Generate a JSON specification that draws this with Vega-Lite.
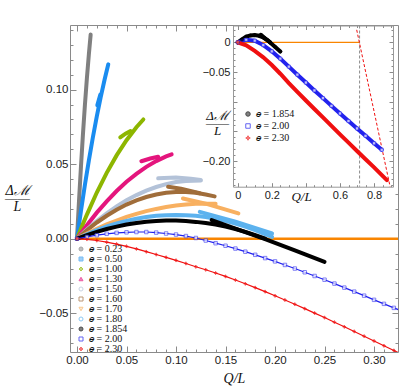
{
  "$schema": "https://vega.github.io/schema/vega-lite/v6.json",
  "width": 328,
  "height": 327,
  "autosize": {"type": "none"},
  "padding": {"left": 70, "top": 25, "right": 9, "bottom": 39},
  "background": "white",
  "config": {
    "view": {"stroke": "#8a8a8a", "strokeWidth": 1},
    "axis": {"labelFont": "Liberation Sans", "labelFontSize": 11.5, "labelColor": "#1a1a1a", "domainColor": "#999999", "tickColor": "#8a8a8a", "grid": false, "titleFont": "Liberation Serif", "titleFontWeight": "normal", "titleColor": "#111111", "labelOverlap": false, "labelFlush": false},
    "legend": {"labelFont": "Liberation Serif", "labelFontSize": 10, "padding": 0, "symbolStrokeWidth": 1, "labelColor": "#111111"}
  },
  "datasets": {
    "ref": [{"x": 0, "y": 0}, {"x": 0.33, "y": 0}],
    "main": [
      {"e":"0.23","s":"0.23a","x":0,"y":0},{"e":"0.23","s":"0.23a","x":0.002,"y":0.0251},{"e":"0.23","s":"0.23a","x":0.004,"y":0.0484},{"e":"0.23","s":"0.23a","x":0.006,"y":0.07},{"e":"0.23","s":"0.23a","x":0.008,"y":0.0898},{"e":"0.23","s":"0.23a","x":0.01,"y":0.1077},{"e":"0.23","s":"0.23a","x":0.012,"y":0.1239},{"e":"0.23","s":"0.23a","x":0.0138,"y":0.137},
      {"e":"0.50","s":"0.50a","x":0,"y":0},{"e":"0.50","s":"0.50a","x":0.004,"y":0.0186},{"e":"0.50","s":"0.50a","x":0.008,"y":0.0362},{"e":"0.50","s":"0.50a","x":0.012,"y":0.0526},{"e":"0.50","s":"0.50a","x":0.016,"y":0.0679},{"e":"0.50","s":"0.50a","x":0.02,"y":0.0821},{"e":"0.50","s":"0.50a","x":0.024,"y":0.0952},{"e":"0.50","s":"0.50a","x":0.028,"y":0.1072},{"e":"0.50","s":"0.50a","x":0.0316,"y":0.117},
      {"e":"0.50","s":"0.50b","x":0.0205,"y":0.0895},{"e":"0.50","s":"0.50b","x":0.0235,"y":0.0965},
      {"e":"1.00","s":"1.00a","x":0,"y":0},{"e":"1.00","s":"1.00a","x":0.005,"y":0.0083},{"e":"1.00","s":"1.00a","x":0.01,"y":0.0162},{"e":"1.00","s":"1.00a","x":0.02,"y":0.031},{"e":"1.00","s":"1.00a","x":0.03,"y":0.0442},{"e":"1.00","s":"1.00a","x":0.04,"y":0.0559},{"e":"1.00","s":"1.00a","x":0.05,"y":0.0661},{"e":"1.00","s":"1.00a","x":0.06,"y":0.0748},{"e":"1.00","s":"1.00a","x":0.067,"y":0.08},
      {"e":"1.00","s":"1.00b","x":0.0437,"y":0.068},{"e":"1.00","s":"1.00b","x":0.049,"y":0.0705},{"e":"1.00","s":"1.00b","x":0.054,"y":0.0722},
      {"e":"1.30","s":"1.30a","x":0,"y":0},{"e":"1.30","s":"1.30a","x":0.01,"y":0.0091},{"e":"1.30","s":"1.30a","x":0.02,"y":0.0175},{"e":"1.30","s":"1.30a","x":0.03,"y":0.0251},{"e":"1.30","s":"1.30a","x":0.04,"y":0.032},{"e":"1.30","s":"1.30a","x":0.05,"y":0.0382},{"e":"1.30","s":"1.30a","x":0.06,"y":0.0435},{"e":"1.30","s":"1.30a","x":0.07,"y":0.0482},{"e":"1.30","s":"1.30a","x":0.08,"y":0.0521},{"e":"1.30","s":"1.30a","x":0.09,"y":0.0552},{"e":"1.30","s":"1.30a","x":0.0956,"y":0.0566},
      {"e":"1.30","s":"1.30b","x":0.065,"y":0.052},{"e":"1.30","s":"1.30b","x":0.074,"y":0.0538},{"e":"1.30","s":"1.30b","x":0.082,"y":0.055},
      {"e":"1.50","s":"1.50a","x":0,"y":0},{"e":"1.50","s":"1.50a","x":0.01,"y":0.0062},{"e":"1.50","s":"1.50a","x":0.02,"y":0.0119},{"e":"1.50","s":"1.50a","x":0.03,"y":0.0171},{"e":"1.50","s":"1.50a","x":0.04,"y":0.0217},{"e":"1.50","s":"1.50a","x":0.05,"y":0.0258},{"e":"1.50","s":"1.50a","x":0.06,"y":0.0293},{"e":"1.50","s":"1.50a","x":0.07,"y":0.0323},{"e":"1.50","s":"1.50a","x":0.08,"y":0.0347},{"e":"1.50","s":"1.50a","x":0.09,"y":0.0366},{"e":"1.50","s":"1.50a","x":0.1,"y":0.038},{"e":"1.50","s":"1.50a","x":0.11,"y":0.0388},{"e":"1.50","s":"1.50a","x":0.125,"y":0.0391},
      {"e":"1.50","s":"1.50b","x":0.082,"y":0.0405},{"e":"1.50","s":"1.50b","x":0.1,"y":0.041},{"e":"1.50","s":"1.50b","x":0.115,"y":0.0402},{"e":"1.50","s":"1.50b","x":0.125,"y":0.0394},
      {"e":"1.60","s":"1.60a","x":0,"y":0},{"e":"1.60","s":"1.60a","x":0.01,"y":0.0057},{"e":"1.60","s":"1.60a","x":0.02,"y":0.0109},{"e":"1.60","s":"1.60a","x":0.03,"y":0.0154},{"e":"1.60","s":"1.60a","x":0.04,"y":0.0194},{"e":"1.60","s":"1.60a","x":0.05,"y":0.0229},{"e":"1.60","s":"1.60a","x":0.06,"y":0.0257},{"e":"1.60","s":"1.60a","x":0.07,"y":0.028},{"e":"1.60","s":"1.60a","x":0.08,"y":0.0297},{"e":"1.60","s":"1.60a","x":0.09,"y":0.0309},{"e":"1.60","s":"1.60a","x":0.1,"y":0.0314},{"e":"1.60","s":"1.60a","x":0.11,"y":0.0314},{"e":"1.60","s":"1.60a","x":0.12,"y":0.0309},{"e":"1.60","s":"1.60a","x":0.13,"y":0.0297},{"e":"1.60","s":"1.60a","x":0.139,"y":0.0284},
      {"e":"1.60","s":"1.60b","x":0.092,"y":0.0349},{"e":"1.60","s":"1.60b","x":0.105,"y":0.0335},{"e":"1.60","s":"1.60b","x":0.124,"y":0.0305},
      {"e":"1.70","s":"1.70a","x":0,"y":0},{"e":"1.70","s":"1.70a","x":0.01,"y":0.0035},{"e":"1.70","s":"1.70a","x":0.02,"y":0.0067},{"e":"1.70","s":"1.70a","x":0.03,"y":0.0096},{"e":"1.70","s":"1.70a","x":0.04,"y":0.0122},{"e":"1.70","s":"1.70a","x":0.05,"y":0.0146},{"e":"1.70","s":"1.70a","x":0.06,"y":0.0167},{"e":"1.70","s":"1.70a","x":0.07,"y":0.0185},{"e":"1.70","s":"1.70a","x":0.08,"y":0.02},{"e":"1.70","s":"1.70a","x":0.09,"y":0.0213},{"e":"1.70","s":"1.70a","x":0.1,"y":0.0223},{"e":"1.70","s":"1.70a","x":0.11,"y":0.0229},{"e":"1.70","s":"1.70a","x":0.12,"y":0.0234},{"e":"1.70","s":"1.70a","x":0.13,"y":0.0235},{"e":"1.70","s":"1.70a","x":0.14,"y":0.0234},
      {"e":"1.70","s":"1.70b","x":0.107,"y":0.027},{"e":"1.70","s":"1.70b","x":0.13,"y":0.0235},{"e":"1.70","s":"1.70b","x":0.163,"y":0.017},
      {"e":"1.80","s":"1.80a","x":0,"y":0},{"e":"1.80","s":"1.80a","x":0.01,"y":0.003},{"e":"1.80","s":"1.80a","x":0.02,"y":0.0058},{"e":"1.80","s":"1.80a","x":0.03,"y":0.0082},{"e":"1.80","s":"1.80a","x":0.04,"y":0.0102},{"e":"1.80","s":"1.80a","x":0.05,"y":0.012},{"e":"1.80","s":"1.80a","x":0.06,"y":0.0134},{"e":"1.80","s":"1.80a","x":0.07,"y":0.0146},{"e":"1.80","s":"1.80a","x":0.08,"y":0.0154},{"e":"1.80","s":"1.80a","x":0.09,"y":0.0158},{"e":"1.80","s":"1.80a","x":0.1,"y":0.016},{"e":"1.80","s":"1.80a","x":0.11,"y":0.0158},{"e":"1.80","s":"1.80a","x":0.12,"y":0.0154},{"e":"1.80","s":"1.80a","x":0.13,"y":0.0146},{"e":"1.80","s":"1.80a","x":0.14,"y":0.0134},{"e":"1.80","s":"1.80a","x":0.15,"y":0.012},{"e":"1.80","s":"1.80a","x":0.16,"y":0.0102},{"e":"1.80","s":"1.80a","x":0.17,"y":0.0082},{"e":"1.80","s":"1.80a","x":0.18,"y":0.0058},{"e":"1.80","s":"1.80a","x":0.19,"y":0.003},{"e":"1.80","s":"1.80a","x":0.197,"y":0.0012},
      {"e":"1.80","s":"1.80b","x":0.124,"y":0.018},{"e":"1.80","s":"1.80b","x":0.16,"y":0.0115},{"e":"1.80","s":"1.80b","x":0.197,"y":0.0035},
      {"e":"1.854","s":"1.854a","x":0,"y":0},{"e":"1.854","s":"1.854a","x":0.01,"y":0.0024},{"e":"1.854","s":"1.854a","x":0.02,"y":0.0046},{"e":"1.854","s":"1.854a","x":0.03,"y":0.0065},{"e":"1.854","s":"1.854a","x":0.04,"y":0.0081},{"e":"1.854","s":"1.854a","x":0.05,"y":0.0095},{"e":"1.854","s":"1.854a","x":0.06,"y":0.0105},{"e":"1.854","s":"1.854a","x":0.07,"y":0.0114},{"e":"1.854","s":"1.854a","x":0.08,"y":0.0119},{"e":"1.854","s":"1.854a","x":0.09,"y":0.0122},{"e":"1.854","s":"1.854a","x":0.1,"y":0.0122},{"e":"1.854","s":"1.854a","x":0.11,"y":0.0119},{"e":"1.854","s":"1.854a","x":0.12,"y":0.0113},{"e":"1.854","s":"1.854a","x":0.13,"y":0.0105},{"e":"1.854","s":"1.854a","x":0.14,"y":0.0095},{"e":"1.854","s":"1.854a","x":0.15,"y":0.0081},{"e":"1.854","s":"1.854a","x":0.16,"y":0.0065},{"e":"1.854","s":"1.854a","x":0.17,"y":0.0046},{"e":"1.854","s":"1.854a","x":0.18,"y":0.0024},{"e":"1.854","s":"1.854a","x":0.19,"y":0.0},
      {"e":"1.854","s":"1.854b","x":0.136,"y":0.0125},{"e":"1.854","s":"1.854b","x":0.16,"y":0.0068},{"e":"1.854","s":"1.854b","x":0.19,"y":-0.0002},{"e":"1.854","s":"1.854b","x":0.22,"y":-0.0078},{"e":"1.854","s":"1.854b","x":0.25,"y":-0.0155},
      {"e":"2.00","s":"2.00a","x":0,"y":0},{"e":"2.00","s":"2.00a","x":0.01,"y":0.0013},{"e":"2.00","s":"2.00a","x":0.02,"y":0.0024},{"e":"2.00","s":"2.00a","x":0.03,"y":0.0033},{"e":"2.00","s":"2.00a","x":0.04,"y":0.0039},{"e":"2.00","s":"2.00a","x":0.05,"y":0.0043},{"e":"2.00","s":"2.00a","x":0.06,"y":0.0045},{"e":"2.00","s":"2.00a","x":0.07,"y":0.0045},{"e":"2.00","s":"2.00a","x":0.08,"y":0.0041},{"e":"2.00","s":"2.00a","x":0.09,"y":0.0035},{"e":"2.00","s":"2.00a","x":0.1,"y":0.0028},{"e":"2.00","s":"2.00a","x":0.11,"y":0.0018},{"e":"2.00","s":"2.00a","x":0.12,"y":0.0005},{"e":"2.00","s":"2.00a","x":0.13,"y":-0.0012},{"e":"2.00","s":"2.00a","x":0.14,"y":-0.003},{"e":"2.00","s":"2.00a","x":0.15,"y":-0.0047},{"e":"2.00","s":"2.00a","x":0.16,"y":-0.0066},{"e":"2.00","s":"2.00a","x":0.17,"y":-0.0087},{"e":"2.00","s":"2.00a","x":0.18,"y":-0.0108},{"e":"2.00","s":"2.00a","x":0.19,"y":-0.013},{"e":"2.00","s":"2.00a","x":0.2,"y":-0.0152},{"e":"2.00","s":"2.00a","x":0.21,"y":-0.0176},{"e":"2.00","s":"2.00a","x":0.22,"y":-0.02},{"e":"2.00","s":"2.00a","x":0.23,"y":-0.0225},{"e":"2.00","s":"2.00a","x":0.24,"y":-0.025},{"e":"2.00","s":"2.00a","x":0.25,"y":-0.0275},{"e":"2.00","s":"2.00a","x":0.26,"y":-0.0301},{"e":"2.00","s":"2.00a","x":0.27,"y":-0.0328},{"e":"2.00","s":"2.00a","x":0.28,"y":-0.0355},{"e":"2.00","s":"2.00a","x":0.29,"y":-0.0382},{"e":"2.00","s":"2.00a","x":0.3,"y":-0.041},{"e":"2.00","s":"2.00a","x":0.31,"y":-0.0437},{"e":"2.00","s":"2.00a","x":0.32,"y":-0.0464},{"e":"2.00","s":"2.00a","x":0.33,"y":-0.049},
      {"e":"2.30","s":"2.30a","x":0,"y":0},{"e":"2.30","s":"2.30a","x":0.01,"y":-0.0004},{"e":"2.30","s":"2.30a","x":0.02,"y":-0.0012},{"e":"2.30","s":"2.30a","x":0.03,"y":-0.0023},{"e":"2.30","s":"2.30a","x":0.04,"y":-0.0036},{"e":"2.30","s":"2.30a","x":0.05,"y":-0.0051},{"e":"2.30","s":"2.30a","x":0.06,"y":-0.0068},{"e":"2.30","s":"2.30a","x":0.07,"y":-0.0087},{"e":"2.30","s":"2.30a","x":0.08,"y":-0.0106},{"e":"2.30","s":"2.30a","x":0.09,"y":-0.0125},{"e":"2.30","s":"2.30a","x":0.1,"y":-0.0145},{"e":"2.30","s":"2.30a","x":0.11,"y":-0.0166},{"e":"2.30","s":"2.30a","x":0.12,"y":-0.0188},{"e":"2.30","s":"2.30a","x":0.13,"y":-0.0208},{"e":"2.30","s":"2.30a","x":0.14,"y":-0.023},{"e":"2.30","s":"2.30a","x":0.15,"y":-0.0253},{"e":"2.30","s":"2.30a","x":0.16,"y":-0.0277},{"e":"2.30","s":"2.30a","x":0.17,"y":-0.0302},{"e":"2.30","s":"2.30a","x":0.18,"y":-0.0328},{"e":"2.30","s":"2.30a","x":0.19,"y":-0.0355},{"e":"2.30","s":"2.30a","x":0.2,"y":-0.0383},{"e":"2.30","s":"2.30a","x":0.21,"y":-0.0411},{"e":"2.30","s":"2.30a","x":0.22,"y":-0.044},{"e":"2.30","s":"2.30a","x":0.23,"y":-0.0469},{"e":"2.30","s":"2.30a","x":0.24,"y":-0.0499},{"e":"2.30","s":"2.30a","x":0.25,"y":-0.0529},{"e":"2.30","s":"2.30a","x":0.26,"y":-0.056},{"e":"2.30","s":"2.30a","x":0.27,"y":-0.0591},{"e":"2.30","s":"2.30a","x":0.28,"y":-0.0622},{"e":"2.30","s":"2.30a","x":0.29,"y":-0.0654},{"e":"2.30","s":"2.30a","x":0.3,"y":-0.0686},{"e":"2.30","s":"2.30a","x":0.31,"y":-0.0718},{"e":"2.30","s":"2.30a","x":0.32,"y":-0.075},{"e":"2.30","s":"2.30a","x":0.33,"y":-0.0782}
    ],
    "inset": [
      {"e":"1.854","s":"1.854a","x":0,"y":0},{"e":"1.854","s":"1.854a","x":0.025,"y":0.0048},{"e":"1.854","s":"1.854a","x":0.05,"y":0.0095},{"e":"1.854","s":"1.854a","x":0.075,"y":0.0116},{"e":"1.854","s":"1.854a","x":0.1,"y":0.0122},{"e":"1.854","s":"1.854a","x":0.125,"y":0.011},{"e":"1.854","s":"1.854a","x":0.15,"y":0.0081},{"e":"1.854","s":"1.854a","x":0.175,"y":0.0035},{"e":"1.854","s":"1.854a","x":0.19,"y":0.0},
      {"e":"1.854","s":"1.854b","x":0.136,"y":0.0125},{"e":"1.854","s":"1.854b","x":0.16,"y":0.0068},{"e":"1.854","s":"1.854b","x":0.19,"y":-0.0002},{"e":"1.854","s":"1.854b","x":0.22,"y":-0.0078},{"e":"1.854","s":"1.854b","x":0.25,"y":-0.0155},
      {"e":"2.00","s":"2.00a","x":0,"y":0},{"e":"2.00","s":"2.00a","x":0.05,"y":0.0043},{"e":"2.00","s":"2.00a","x":0.1,"y":0.0028},{"e":"2.00","s":"2.00a","x":0.15,"y":-0.0047},{"e":"2.00","s":"2.00a","x":0.2,"y":-0.0152},{"e":"2.00","s":"2.00a","x":0.25,"y":-0.0275},{"e":"2.00","s":"2.00a","x":0.3,"y":-0.041},{"e":"2.00","s":"2.00a","x":0.35,"y":-0.0545},{"e":"2.00","s":"2.00a","x":0.4,"y":-0.0678},{"e":"2.00","s":"2.00a","x":0.45,"y":-0.081},{"e":"2.00","s":"2.00a","x":0.5,"y":-0.094},{"e":"2.00","s":"2.00a","x":0.55,"y":-0.107},{"e":"2.00","s":"2.00a","x":0.6,"y":-0.1198},{"e":"2.00","s":"2.00a","x":0.65,"y":-0.1325},{"e":"2.00","s":"2.00a","x":0.7,"y":-0.145},{"e":"2.00","s":"2.00a","x":0.75,"y":-0.1575},{"e":"2.00","s":"2.00a","x":0.8,"y":-0.17},{"e":"2.00","s":"2.00a","x":0.845,"y":-0.181},
      {"e":"2.30","s":"2.30a","x":0,"y":0},{"e":"2.30","s":"2.30a","x":0.05,"y":-0.0051},{"e":"2.30","s":"2.30a","x":0.1,"y":-0.0145},{"e":"2.30","s":"2.30a","x":0.15,"y":-0.0253},{"e":"2.30","s":"2.30a","x":0.2,"y":-0.0383},{"e":"2.30","s":"2.30a","x":0.25,"y":-0.0529},{"e":"2.30","s":"2.30a","x":0.3,"y":-0.0686},{"e":"2.30","s":"2.30a","x":0.35,"y":-0.0835},{"e":"2.30","s":"2.30a","x":0.4,"y":-0.098},{"e":"2.30","s":"2.30a","x":0.45,"y":-0.1123},{"e":"2.30","s":"2.30a","x":0.5,"y":-0.1265},{"e":"2.30","s":"2.30a","x":0.55,"y":-0.1408},{"e":"2.30","s":"2.30a","x":0.6,"y":-0.155},{"e":"2.30","s":"2.30a","x":0.65,"y":-0.169},{"e":"2.30","s":"2.30a","x":0.7,"y":-0.183},{"e":"2.30","s":"2.30a","x":0.75,"y":-0.1968},{"e":"2.30","s":"2.30a","x":0.8,"y":-0.2105},{"e":"2.30","s":"2.30a","x":0.875,"y":-0.232}
    ],
    "insetOrange": [{"x": 0, "y": 0}, {"x": 0.715, "y": 0}],
    "insetDash": [{"x": 0.698, "y": 0.021}, {"x": 0.894, "y": -0.243}],
    "insetVline": [{"x": 0.715}]
  },
  "layer": [
    {
      "layer": [
        {
          "data": {"name": "ref"},
          "mark": {"type": "line", "color": "#f98500", "strokeWidth": 2.6, "clip": true},
          "encoding": {
            "x": {"field": "x", "type": "quantitative", "scale": {"domain": [-0.00707, 0.3242], "nice": false, "zero": false},
              "axis": {"orient": "bottom", "domain": false,
                "values": [0,0.01,0.02,0.03,0.04,0.05,0.06,0.07,0.08,0.09,0.1,0.11,0.12,0.13,0.14,0.15,0.16,0.17,0.18,0.19,0.2,0.21,0.22,0.23,0.24,0.25,0.26,0.27,0.28,0.29,0.3,0.31,0.32],
                "tickSize": {"condition": {"test": "abs(round(datum.value*100)) % 5 == 0", "value": -6}, "value": -3},
                "labelExpr": "abs(round(datum.value*100)) % 5 == 0 ? format(datum.value, '.2f') : ''",
                "labelPadding": 8,
                "title": "Q/L", "titleFontStyle": "italic", "titleFontSize": 14, "titleX": 164, "titleY": 26, "titleBaseline": "middle", "titleAlign": "center"}},
            "y": {"field": "y", "type": "quantitative", "scale": {"domain": [-0.076, 0.1434], "nice": false, "zero": false},
              "axis": {"orient": "left", "domain": false,
                "values": [-0.07,-0.06,-0.05,-0.04,-0.03,-0.02,-0.01,0,0.01,0.02,0.03,0.04,0.05,0.06,0.07,0.08,0.09,0.1,0.11,0.12,0.13,0.14],
                "tickSize": {"condition": {"test": "abs(round(datum.value*100)) % 5 == 0", "value": -6}, "value": -3},
                "labelExpr": "abs(round(datum.value*100)) % 5 == 0 ? format(datum.value, '.2f') : ''",
                "labelPadding": 8,
                "title": ["Δℳ", "——", "L"], "titleAngle": 0, "titleFontStyle": "italic", "titleFontSize": 14, "titleLineHeight": 8, "titleX": -53, "titleY": 165, "titleAlign": "center", "titleBaseline": "middle"}}
          }
        },
        {
          "data": {"name": "main"},
          "transform": [{"filter": "datum.e != '2.00' && datum.e != '2.30'"}],
          "mark": {"type": "line", "strokeCap": "round", "clip": true},
          "encoding": {
            "x": {"field": "x", "type": "quantitative",
              "axis": {"orient": "top", "domain": false, "labels": false, "title": null,
                "values": [0,0.01,0.02,0.03,0.04,0.05,0.06,0.07,0.08,0.09,0.1,0.11,0.12,0.13,0.14,0.15],
                "tickSize": {"condition": {"test": "abs(round(datum.value*100)) % 5 == 0", "value": -6}, "value": -3}}},
            "y": {"field": "y", "type": "quantitative",
              "axis": {"orient": "right", "domain": false, "labels": false, "title": null,
                "values": [-0.07,-0.06,-0.05,-0.04,-0.03,-0.02,-0.01,0,0.01,0.02,0.03],
                "tickSize": {"condition": {"test": "abs(round(datum.value*100)) % 5 == 0", "value": -6}, "value": -3}}},
            "detail": {"field": "s"},
            "color": {"field": "e", "type": "nominal", "legend": null,
              "scale": {"domain": ["2.30","2.00","1.854","1.80","1.70","1.60","1.50","1.30","1.00","0.50","0.23"],
                "range": ["#f01010","#2222ee","#000000","#5cb2ee","#f8b060","#a06d3a","#b3c2d8","#e4157d","#8db600","#1a8cf0","#808080"]}},
            "strokeWidth": {"field": "e", "type": "ordinal", "legend": null,
              "scale": {"domain": ["0.23","0.50","1.00","1.30","1.50","1.60","1.70","1.80","1.854"], "range": [4,4,4,4,5.5,4,4,5,4.5]}}
          }
        },
        {
          "data": {"name": "main"},
          "transform": [{"filter": "datum.e == '2.00' || datum.e == '2.30'"}],
          "mark": {"type": "line", "strokeWidth": 1.2, "clip": true},
          "encoding": {
            "x": {"field": "x", "type": "quantitative", "axis": null},
            "y": {"field": "y", "type": "quantitative", "axis": null},
            "detail": {"field": "s"},
            "color": {"field": "e", "type": "nominal", "legend": null}
          }
        },
        {
          "data": {"name": "main"},
          "transform": [{"filter": "datum.e == '2.00' || datum.e == '2.30'"}],
          "mark": {"type": "point", "filled": true, "size": 12, "strokeWidth": 0.8, "clip": true},
          "encoding": {
            "x": {"field": "x", "type": "quantitative", "axis": null},
            "y": {"field": "y", "type": "quantitative", "axis": null},
            "shape": {"field": "e", "type": "nominal",
              "scale": {"domain": ["0.23","0.50","1.00","1.30","1.50","1.60","1.70","1.80","1.854","2.00","2.30"],
                "range": ["circle","square","diamond","triangle-up","circle","square","triangle-down","circle","circle","square","M0,-1L0.3,-0.3L1,0L0.3,0.3L0,1L-0.3,0.3L-1,0L-0.3,-0.3Z"]},
              "legend": {"orient": "none", "legendX": 6, "legendY": 219, "title": null, "labelExpr": "'𝑒 = ' + datum.label", "rowPadding": -2, "symbolSize": 16, "labelOffset": 3}},
            "stroke": {"field": "e", "type": "nominal",
              "scale": {"domain": ["0.23","0.50","1.00","1.30","1.50","1.60","1.70","1.80","1.854","2.00","2.30"],
                "range": ["#808080","#3fa0f0","#8db600","#e4157d","#b3c2d8","#a06d3a","#f8b060","#5cb2ee","#000000","#2222ee","#f01010"]},
              "legend": {"orient": "none", "legendX": 6, "legendY": 219, "title": null, "labelExpr": "'𝑒 = ' + datum.label", "rowPadding": -2, "symbolSize": 16, "labelOffset": 3}},
            "fill": {"field": "e", "type": "nominal",
              "scale": {"domain": ["0.23","0.50","1.00","1.30","1.50","1.60","1.70","1.80","1.854","2.00","2.30"],
                "range": ["#808080","#3fa0f0","#8db600","#e4157d","#ffffff","#ffffff","#fde4c4","#ffffff","#000000","#ffffff","#f01010"]},
              "legend": {"orient": "none", "legendX": 6, "legendY": 219, "title": null, "labelExpr": "'𝑒 = ' + datum.label", "rowPadding": -2, "symbolSize": 16, "labelOffset": 3}}
          }
        }
      ],
      "resolve": {"axis": {"x": "independent", "y": "independent"}}
    },
    {
      "layer": [
        {
          "data": {"name": "insetVline"},
          "mark": {"type": "rule", "color": "#8a8a8a", "strokeDash": [3, 2], "strokeWidth": 1},
          "encoding": {
            "x": {"field": "x", "type": "quantitative", "scale": {"domain": [-0.0276, 0.911], "range": [163, 323], "nice": false, "zero": false},
              "axis": {"orient": "bottom", "offset": -165.3,
                "values": [0,0.05,0.1,0.15,0.2,0.25,0.3,0.35,0.4,0.45,0.5,0.55,0.6,0.65,0.7,0.75,0.8,0.85,0.9],
                "tickSize": {"condition": {"test": "round(datum.value*20) % 4 == 0", "value": -4}, "value": -2},
                "labelExpr": "round(datum.value*20) % 4 == 0 && round(datum.value*20) != 8 ? (datum.value == 0 ? '0' : format(datum.value, '.1f')) : ''",
                "labelPadding": 7, "labelFontSize": 11,
                "title": "Q/L", "titleFontStyle": "italic", "titleFontSize": 13, "titleX": 231, "titleY": 10, "titleBaseline": "middle", "titleAlign": "center"}},
            "y": {"datum": 0.0283, "type": "quantitative", "scale": {"domain": [-0.2431, 0.0283], "range": [161.7, 0.5], "nice": false, "zero": false},
              "axis": {"orient": "left", "offset": -163,
                "values": [-0.24,-0.23,-0.22,-0.21,-0.2,-0.19,-0.18,-0.17,-0.16,-0.15,-0.14,-0.13,-0.12,-0.11,-0.1,-0.09,-0.08,-0.07,-0.06,-0.05,-0.04,-0.03,-0.02,-0.01,0,0.01,0.02],
                "tickSize": {"condition": {"test": "abs(round(datum.value*100)) % 5 == 0", "value": -4}, "value": -2},
                "labelExpr": "round(datum.value*100) == 0 ? '0' : ((round(datum.value*100) == -5 || round(datum.value*100) == -20) ? format(datum.value, '.2f') : '')",
                "labelPadding": 7, "labelFontSize": 11,
                "title": ["Δℳ", "——", "L"], "titleAngle": 0, "titleFontStyle": "italic", "titleFontSize": 13, "titleLineHeight": 7.5, "titleX": -16, "titleY": 90, "titleAlign": "center", "titleBaseline": "middle"}},
            "y2": {"datum": -0.2431}
          }
        },
        {
          "data": {"name": "insetOrange"},
          "mark": {"type": "line", "color": "#f98500", "strokeWidth": 1.2},
          "encoding": {
            "x": {"field": "x", "type": "quantitative",
              "axis": {"orient": "top", "offset": -0.5, "labels": false, "title": null,
                "values": [0,0.05,0.1,0.15,0.2,0.25,0.3,0.35,0.4,0.45,0.5,0.55,0.6,0.65,0.7,0.75,0.8,0.85,0.9],
                "tickSize": {"condition": {"test": "round(datum.value*20) % 4 == 0", "value": -4}, "value": -2}}},
            "y": {"field": "y", "type": "quantitative",
              "axis": {"orient": "right", "offset": -5, "labels": false, "title": null,
                "values": [-0.24,-0.23,-0.22,-0.21,-0.2,-0.19,-0.18,-0.17,-0.16,-0.15,-0.14,-0.13,-0.12,-0.11,-0.1,-0.09,-0.08,-0.07,-0.06,-0.05,-0.04,-0.03,-0.02,-0.01,0,0.01,0.02],
                "tickSize": {"condition": {"test": "abs(round(datum.value*100)) % 5 == 0", "value": -4}, "value": -2}}}
          }
        },
        {
          "data": {"name": "insetDash"},
          "mark": {"type": "line", "color": "#f01010", "strokeWidth": 1, "strokeDash": [3, 2]},
          "encoding": {
            "x": {"field": "x", "type": "quantitative", "axis": null},
            "y": {"field": "y", "type": "quantitative", "axis": null}
          }
        },
        {
          "data": {"name": "inset"},
          "mark": {"type": "line", "strokeWidth": 4, "strokeCap": "round"},
          "encoding": {
            "x": {"field": "x", "type": "quantitative", "axis": null},
            "y": {"field": "y", "type": "quantitative", "axis": null},
            "detail": {"field": "s"},
            "color": {"field": "e", "type": "nominal", "legend": null,
              "scale": {"domain": ["2.30","2.00","1.854"], "range": ["#f01010","#2222ee","#000000"]}}
          }
        },
        {
          "data": {"name": "inset"},
          "mark": {"type": "point", "filled": true, "size": 10, "strokeWidth": 0.7},
          "encoding": {
            "x": {"field": "x", "type": "quantitative", "axis": null},
            "y": {"field": "y", "type": "quantitative", "axis": null},
            "shape": {"field": "e", "type": "nominal",
              "scale": {"domain": ["1.854","2.00","2.30"], "range": ["circle","square","M0,-1L0.3,-0.3L1,0L0.3,0.3L0,1L-0.3,0.3L-1,0L-0.3,-0.3Z"]},
              "legend": {"orient": "none", "legendX": 173, "legendY": 84, "title": null, "labelExpr": "'𝑒 = ' + datum.label", "rowPadding": 2, "symbolSize": 20, "labelOffset": 3}},
            "stroke": {"field": "e", "type": "nominal",
              "scale": {"domain": ["1.854","2.00","2.30"], "range": ["#000000","#2222ee","#f01010"]},
              "legend": {"orient": "none", "legendX": 173, "legendY": 84, "title": null, "labelExpr": "'𝑒 = ' + datum.label", "rowPadding": 2, "symbolSize": 20, "labelOffset": 3}},
            "fill": {"field": "e", "type": "nominal",
              "scale": {"domain": ["1.854","2.00","2.30"], "range": ["#000000","#ffffff","#f01010"]},
              "legend": {"orient": "none", "legendX": 173, "legendY": 84, "title": null, "labelExpr": "'𝑒 = ' + datum.label", "rowPadding": 2, "symbolSize": 20, "labelOffset": 3}}
          }
        }
      ],
      "resolve": {"axis": {"x": "independent", "y": "independent"}}
    }
  ],
  "resolve": {
    "scale": {"x": "independent", "y": "independent", "color": "independent", "stroke": "independent", "fill": "independent", "shape": "independent", "strokeWidth": "independent"},
    "axis": {"x": "independent", "y": "independent"},
    "legend": {"stroke": "independent", "fill": "independent", "shape": "independent", "color": "independent"}
  }
}
